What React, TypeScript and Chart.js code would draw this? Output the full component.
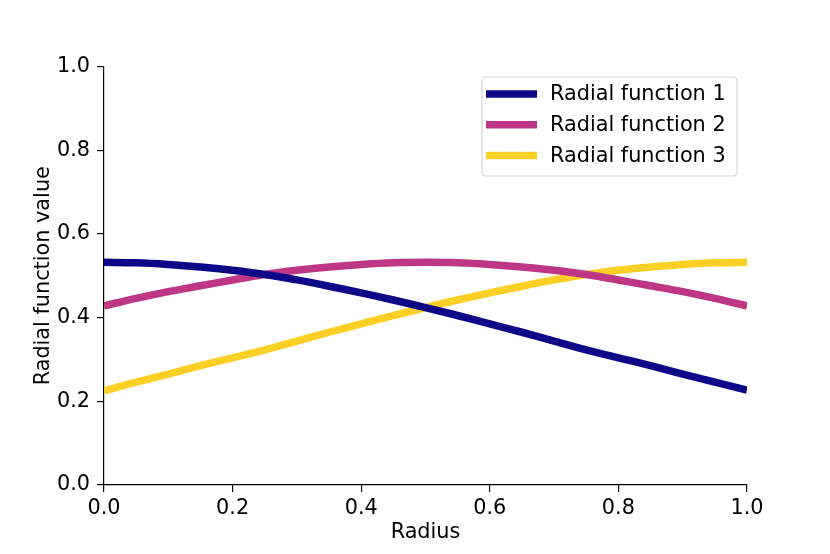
import React, { useEffect, useRef } from "react";
import { Chart, registerables } from "chart.js";

Chart.register(...registerables);

const radius = [0, 0.05, 0.1, 0.15, 0.2, 0.25, 0.3, 0.35, 0.4, 0.45, 0.5, 0.55, 0.6, 0.65, 0.7, 0.75, 0.8, 0.85, 0.9, 0.95, 1.0];
const radial1 = [0.532, 0.531, 0.527, 0.521, 0.513, 0.503, 0.490, 0.475, 0.459, 0.442, 0.424, 0.405, 0.385, 0.365, 0.344, 0.323, 0.304, 0.285, 0.265, 0.246, 0.227];
const radial2 = [0.428, 0.446, 0.462, 0.476, 0.490, 0.503, 0.513, 0.521, 0.527, 0.531, 0.532, 0.531, 0.527, 0.521, 0.513, 0.503, 0.490, 0.476, 0.462, 0.446, 0.428];
const radial3 = [0.225, 0.246, 0.265, 0.285, 0.304, 0.323, 0.344, 0.365, 0.385, 0.405, 0.424, 0.442, 0.459, 0.475, 0.490, 0.503, 0.513, 0.521, 0.527, 0.531, 0.532];
const seriesLabels = ["Radial function 1", "Radial function 2", "Radial function 3"];
const seriesColors = ["#0d0887", "#bd3786", "#fccf25"];
const tickValues = [0, 0.2, 0.4, 0.6, 0.8, 1.0];

const FONT = "'DejaVu Sans', sans-serif";
const FSIZE = 20.8;

const legendPlugin = {
  id: "boxLegend",
  afterDraw(chart: any) {
    const ctx = chart.ctx;
    const area = chart.chartArea;
    const boxW = 255;
    const boxH = 99;
    const x0 = area.right - 10 - boxW;
    const y0 = area.top + 10.5;
    ctx.save();
    ctx.beginPath();
    const r = 4;
    ctx.moveTo(x0 + r, y0);
    ctx.lineTo(x0 + boxW - r, y0);
    ctx.quadraticCurveTo(x0 + boxW, y0, x0 + boxW, y0 + r);
    ctx.lineTo(x0 + boxW, y0 + boxH - r);
    ctx.quadraticCurveTo(x0 + boxW, y0 + boxH, x0 + boxW - r, y0 + boxH);
    ctx.lineTo(x0 + r, y0 + boxH);
    ctx.quadraticCurveTo(x0, y0 + boxH, x0, y0 + boxH - r);
    ctx.lineTo(x0, y0 + r);
    ctx.quadraticCurveTo(x0, y0, x0 + r, y0);
    ctx.closePath();
    ctx.fillStyle = "rgba(255,255,255,0.8)";
    ctx.fill();
    ctx.strokeStyle = "#d6d6d6";
    ctx.lineWidth = 1.2;
    ctx.stroke();
    ctx.font = `${FSIZE}px ${FONT}`;
    ctx.textBaseline = "middle";
    ctx.textAlign = "left";
    chart.data.datasets.forEach((ds: any, i: number) => {
      const cy = y0 + 17 + i * 30.7;
      ctx.beginPath();
      ctx.moveTo(x0 + 4, cy);
      ctx.lineTo(x0 + 55, cy);
      ctx.strokeStyle = ds.borderColor;
      ctx.lineWidth = 7.5;
      ctx.lineCap = "butt";
      ctx.stroke();
      ctx.fillStyle = "#000";
      ctx.fillText(ds.label, x0 + 68, cy + 1);
    });
    ctx.restore();
  },
};

export default function App() {
  const ref = useRef<HTMLCanvasElement | null>(null);
  useEffect(() => {
    if (!ref.current) return;
    const mk = (vals: number[], i: number) => ({
      label: seriesLabels[i],
      data: radius.map((r, j) => ({ x: r, y: vals[j] })),
      borderColor: seriesColors[i],
      backgroundColor: seriesColors[i],
      borderWidth: 7.5,
      pointRadius: 0,
      tension: 0.3,
      fill: false,
      clip: 0,
      borderCapStyle: "butt" as const,
    });
    const axisCommon = (title: string, isY: boolean) => ({
      type: "linear" as const,
      min: 0,
      max: 1,
      afterBuildTicks: (s: any) => {
        s.ticks = tickValues.map((v) => ({ value: v }));
      },
      afterFit: (s: any) => {
        if (isY) s.width = 104;
        else s.height = 69;
      },
      ticks: {
        color: "#000",
        font: { family: FONT, size: FSIZE },
        padding: isY ? 7 : 4,
        maxRotation: 0,
        autoSkip: false,
        callback: (v: any) => Number(v).toFixed(1),
      },
      grid: {
        drawOnChartArea: false,
        drawTicks: true,
        tickLength: 7,
        color: "#000",
        lineWidth: 1.2,
      },
      border: { display: true, color: "#000", width: 1.2 },
      title: {
        display: true,
        text: title,
        color: "#000",
        font: { family: FONT, size: FSIZE },
        padding: isY ? { top: 31, bottom: 0 } : { top: 0, bottom: 9 },
      },
    });
    const chart = new Chart(ref.current, {
      type: "line",
      data: {
        datasets: [mk(radial1, 0), mk(radial2, 1), mk(radial3, 2)],
      },
      options: {
        animation: false,
        responsive: false,
        maintainAspectRatio: false,
        devicePixelRatio: 1,
        layout: { padding: { left: 0, top: 66.5, right: 83, bottom: 0 } },
        plugins: { legend: { display: false }, tooltip: { enabled: false } },
        scales: {
          x: axisCommon("Radius", false) as any,
          y: axisCommon("Radial function value", true) as any,
        },
      },
      plugins: [legendPlugin],
    });
    return () => chart.destroy();
  }, []);
  return (
    <div style={{ position: "fixed", left: 0, top: 0, width: 830, height: 554, background: "#fff" }}>
      <canvas ref={ref} width={830} height={554} style={{ width: 830, height: 554 }} />
    </div>
  );
}
